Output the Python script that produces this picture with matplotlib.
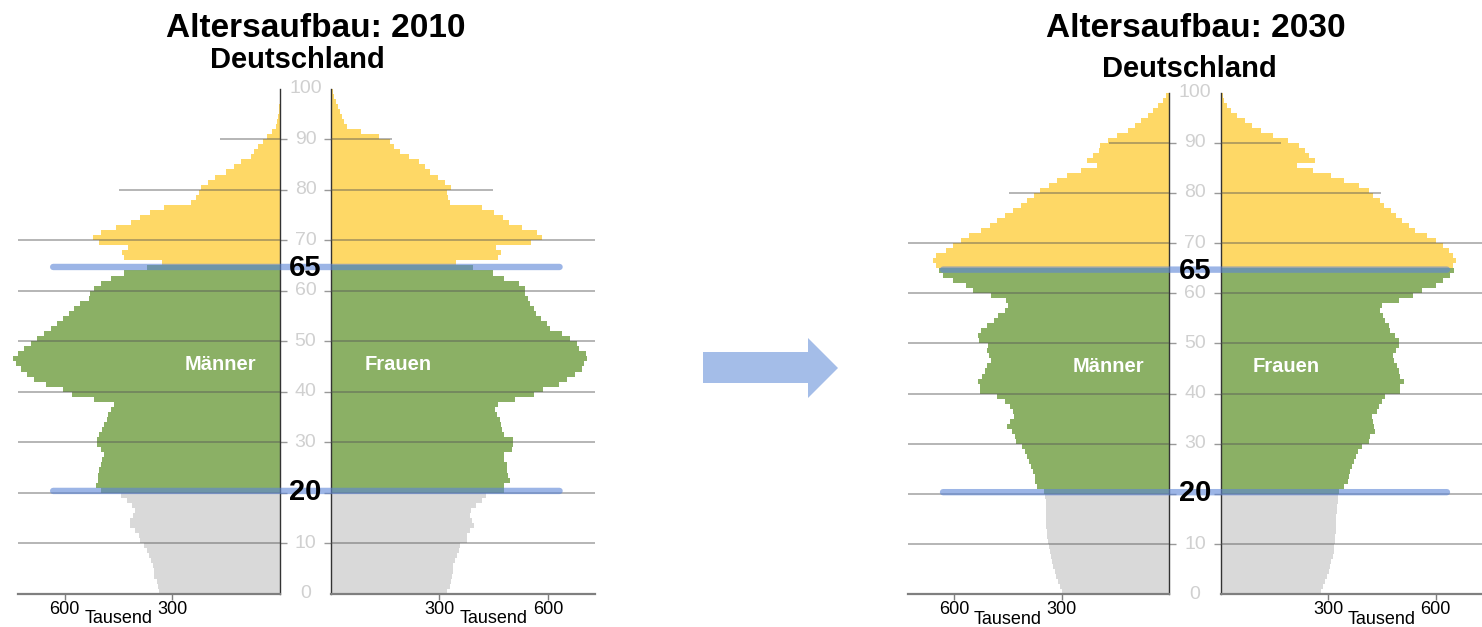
import numpy as np
import matplotlib
matplotlib.use("Agg")
import matplotlib.pyplot as plt
from matplotlib import font_manager
from matplotlib.patches import ConnectionPatch, Polygon
import matplotlib.transforms as mtransforms

# Bevoelkerung nach Alter (Tausend), Alter 0..99
alter = np.arange(100)

maenner_2010 = [
    338, 341, 344, 350, 352, 354, 359, 366, 370, 378,
    389, 394, 403, 417, 419, 409, 403, 412, 426, 443,
    500, 514, 506, 507, 505, 500, 495, 491, 500, 509,
    511, 505, 495, 489, 483, 478, 470, 463, 519, 579,
    606, 653, 685, 704, 722, 736, 743, 731, 713, 694,
    676, 657, 639, 620, 606, 588, 574, 556, 532, 528,
    519, 500, 470, 435, 370, 330, 434, 440, 424, 504,
    520, 500, 458, 415, 390, 362, 322, 248, 234, 226,
    220, 200, 180, 150, 128, 108, 82, 72, 60, 46,
    37, 23, 12, 8, 5, 3, 2, 1, 1, 1,
]
frauen_2010 = [
    322, 329, 333, 335, 338, 338, 343, 349, 355, 358,
    377, 377, 384, 395, 389, 384, 386, 401, 417, 428,
    477, 479, 495, 489, 488, 486, 477, 479, 500, 503,
    503, 477, 472, 469, 468, 458, 454, 463, 509, 560,
    586, 630, 653, 676, 694, 699, 708, 704, 685, 681,
    662, 639, 606, 597, 581, 568, 560, 549, 546, 537,
    537, 521, 477, 449, 394, 347, 463, 470, 456, 553,
    583, 569, 528, 491, 475, 451, 417, 329, 324, 322,
    331, 315, 296, 273, 259, 243, 216, 190, 173, 162,
    132, 83, 44, 37, 31, 25, 20, 14, 9, 5,
]
maenner_2030 = [
    300, 304, 310, 316, 320, 324, 328, 331, 334, 337,
    339, 341, 342, 343, 344, 344, 345, 345, 345, 346,
    351, 370, 374, 376, 381, 386, 392, 397, 404, 411,
    428, 432, 439, 453, 446, 434, 437, 446, 458, 481,
    528, 528, 534, 523, 514, 510, 498, 504, 510, 507,
    532, 535, 526, 510, 490, 479, 460, 451, 456, 498,
    547, 568, 603, 631, 642, 652, 661, 652, 624, 605,
    582, 558, 526, 502, 481, 458, 437, 414, 398, 378,
    362, 336, 312, 285, 245, 200, 228, 212, 196, 192,
    171, 146, 115, 96, 77, 59, 45, 31, 17, 7,
]
frauen_2030 = [
    280, 286, 292, 296, 301, 306, 309, 312, 315, 317,
    319, 320, 321, 321, 322, 323, 324, 325, 326, 327,
    331, 345, 354, 358, 360, 366, 372, 377, 383, 393,
    415, 418, 432, 429, 425, 421, 437, 442, 451, 460,
    501, 501, 513, 501, 497, 492, 483, 481, 489, 497,
    497, 488, 474, 470, 460, 452, 446, 451, 497, 538,
    561, 600, 621, 640, 652, 649, 658, 649, 637, 620,
    601, 575, 544, 526, 507, 489, 475, 456, 444, 426,
    413, 385, 343, 308, 256, 213, 262, 246, 236, 219,
    186, 146, 112, 86, 66, 46, 28, 17, 9, 6,
]

x_ticks = [300, 600]
alters_labels = [0, 10, 30, 40, 50, 60, 70, 80, 90, 100]
grenz_alter = [20, 65]
grid_alter = [10, 20, 30, 40, 50, 60, 70, 80, 90]
grid_ende = {90: 168, 80: 448}

W, H, DPI = 1482, 627, 100
XMAX = 730

GRAU = "#d9d9d9"
GRUEN = "#8bb065"
GELB = "#fed866"
BLAU = "#5b84d6"

namen = {f.name for f in font_manager.fontManager.ttflist}
NARROW = "Liberation Sans Narrow" if "Liberation Sans Narrow" in namen else "Liberation Sans"
plt.rcParams["font.family"] = ["Liberation Sans", "DejaVu Sans"]

fig = plt.figure(figsize=(W / DPI, H / DPI), dpi=DPI)


def axes_px(x0, x1, y_top, y_bot):
    return fig.add_axes([x0 / W, 1 - y_bot / H, (x1 - x0) / W, (y_bot - y_top) / H])


def farben(a):
    return [GRAU if x < 20 else (GRUEN if x < 65 else GELB) for x in a]


def halbe(ax, werte, links):
    ax.barh(alter, werte, height=1.0, align="edge", color=farben(alter),
            linewidth=0, clip_on=False, zorder=2)
    for g in grid_alter:
        ende = grid_ende.get(g, XMAX)
        ax.plot([0, ende], [g, g], color="#555555", lw=1.1, alpha=0.55,
                zorder=3, clip_on=False, solid_capstyle="butt")
    ax.set_ylim(0, 100)
    ax.set_xlim((XMAX, 0) if links else (0, XMAX))
    for s in ["top", "left", "right"]:
        ax.spines[s].set_visible(False)
    inner = "right" if links else "left"
    ax.spines[inner].set_visible(True)
    ax.spines[inner].set_color("#333333")
    ax.spines[inner].set_linewidth(1.0)
    ax.spines["bottom"].set_color("#7f7f7f")
    ax.spines["bottom"].set_linewidth(1.6)
    ax.yaxis.set_ticks_position(inner)
    ax.set_yticks(grid_alter)
    ax.tick_params(axis="y", length=5, width=1.0, color="#999999",
                   labelleft=False, labelright=False)
    ax.set_xticks(x_ticks)
    ax.tick_params(axis="x", length=4, width=1.0, color="#7f7f7f", pad=1,
                   labelsize=13)
    for lab in ax.get_xticklabels():
        lab.set_fontfamily(NARROW)
    ax.annotate("Tausend", xy=(450, 0), xycoords=("data", "axes fraction"),
                xytext=(0, -18), textcoords="offset points", ha="center",
                va="center", fontsize=13, family=NARROW)
    ax.set_facecolor("none")


def pyramide(m_werte, f_werte, box_m, box_f, y_top, y_bot, jahr,
             titel_xy, land_xy, geschlecht_x):
    ax_m = axes_px(box_m[0], box_m[1], y_top, y_bot)
    ax_f = axes_px(box_f[0], box_f[1], y_top, y_bot)
    halbe(ax_m, m_werte, True)
    halbe(ax_f, f_werte, False)

    mitte = (box_m[1] + box_f[0]) / 2 / W
    tr = mtransforms.blended_transform_factory(fig.transFigure, ax_m.transData)
    for a in alters_labels:
        fig.text(mitte, a, str(a), transform=tr, ha="center", va="center",
                 fontsize=14, color="#d0d0d0", family=NARROW)

    for g, gy in zip(grenz_alter, [20.35, 64.7]):
        con = ConnectionPatch(xyA=(632, gy), coordsA=ax_m.transData,
                              xyB=(632, gy), coordsB=ax_f.transData,
                              color=BLAU, lw=4.6, alpha=0.6, zorder=5,
                              capstyle="round")
        fig.add_artist(con)
        fig.text(mitte, gy - 0.2, str(g), transform=tr, ha="center",
                 va="center", fontsize=21, fontweight="bold", color="black",
                 family=NARROW, zorder=6)

    ax_m.text(geschlecht_x[0], 45.3, "Männer", ha="center", va="center",
              color="white", fontsize=14.5, fontweight="bold", zorder=4)
    ax_f.text(geschlecht_x[1], 45.3, "Frauen", ha="center", va="center",
              color="white", fontsize=14.5, fontweight="bold", zorder=4)

    fig.text(titel_xy[0] / W, 1 - titel_xy[1] / H, f"Altersaufbau: {jahr}",
             ha="center", va="baseline", fontsize=24, fontweight="bold")
    fig.text(land_xy[0] / W, 1 - land_xy[1] / H, "Deutschland",
             ha="center", va="baseline", fontsize=21, fontweight="bold")


pyramide(maenner_2010, frauen_2010, (18, 280), (331, 595), 88.7, 593.7, 2010,
         (315.5, 37), (297, 68), (167, 185))
pyramide(maenner_2030, frauen_2030, (908, 1169), (1221, 1482), 92.5, 594.3, 2030,
         (1195.5, 37), (1189.5, 77), (168, 181))

# Pfeil zwischen den Pyramiden
pfeil_px = [(703, 352), (808, 352), (808, 338), (838, 368),
            (808, 398), (808, 383), (703, 383)]
pfeil = Polygon([(x / W, 1 - y / H) for x, y in pfeil_px], closed=True,
                transform=fig.transFigure, facecolor="#a4bde8",
                edgecolor="none")
fig.add_artist(pfeil)

fig.savefig("out.png", dpi=DPI)
